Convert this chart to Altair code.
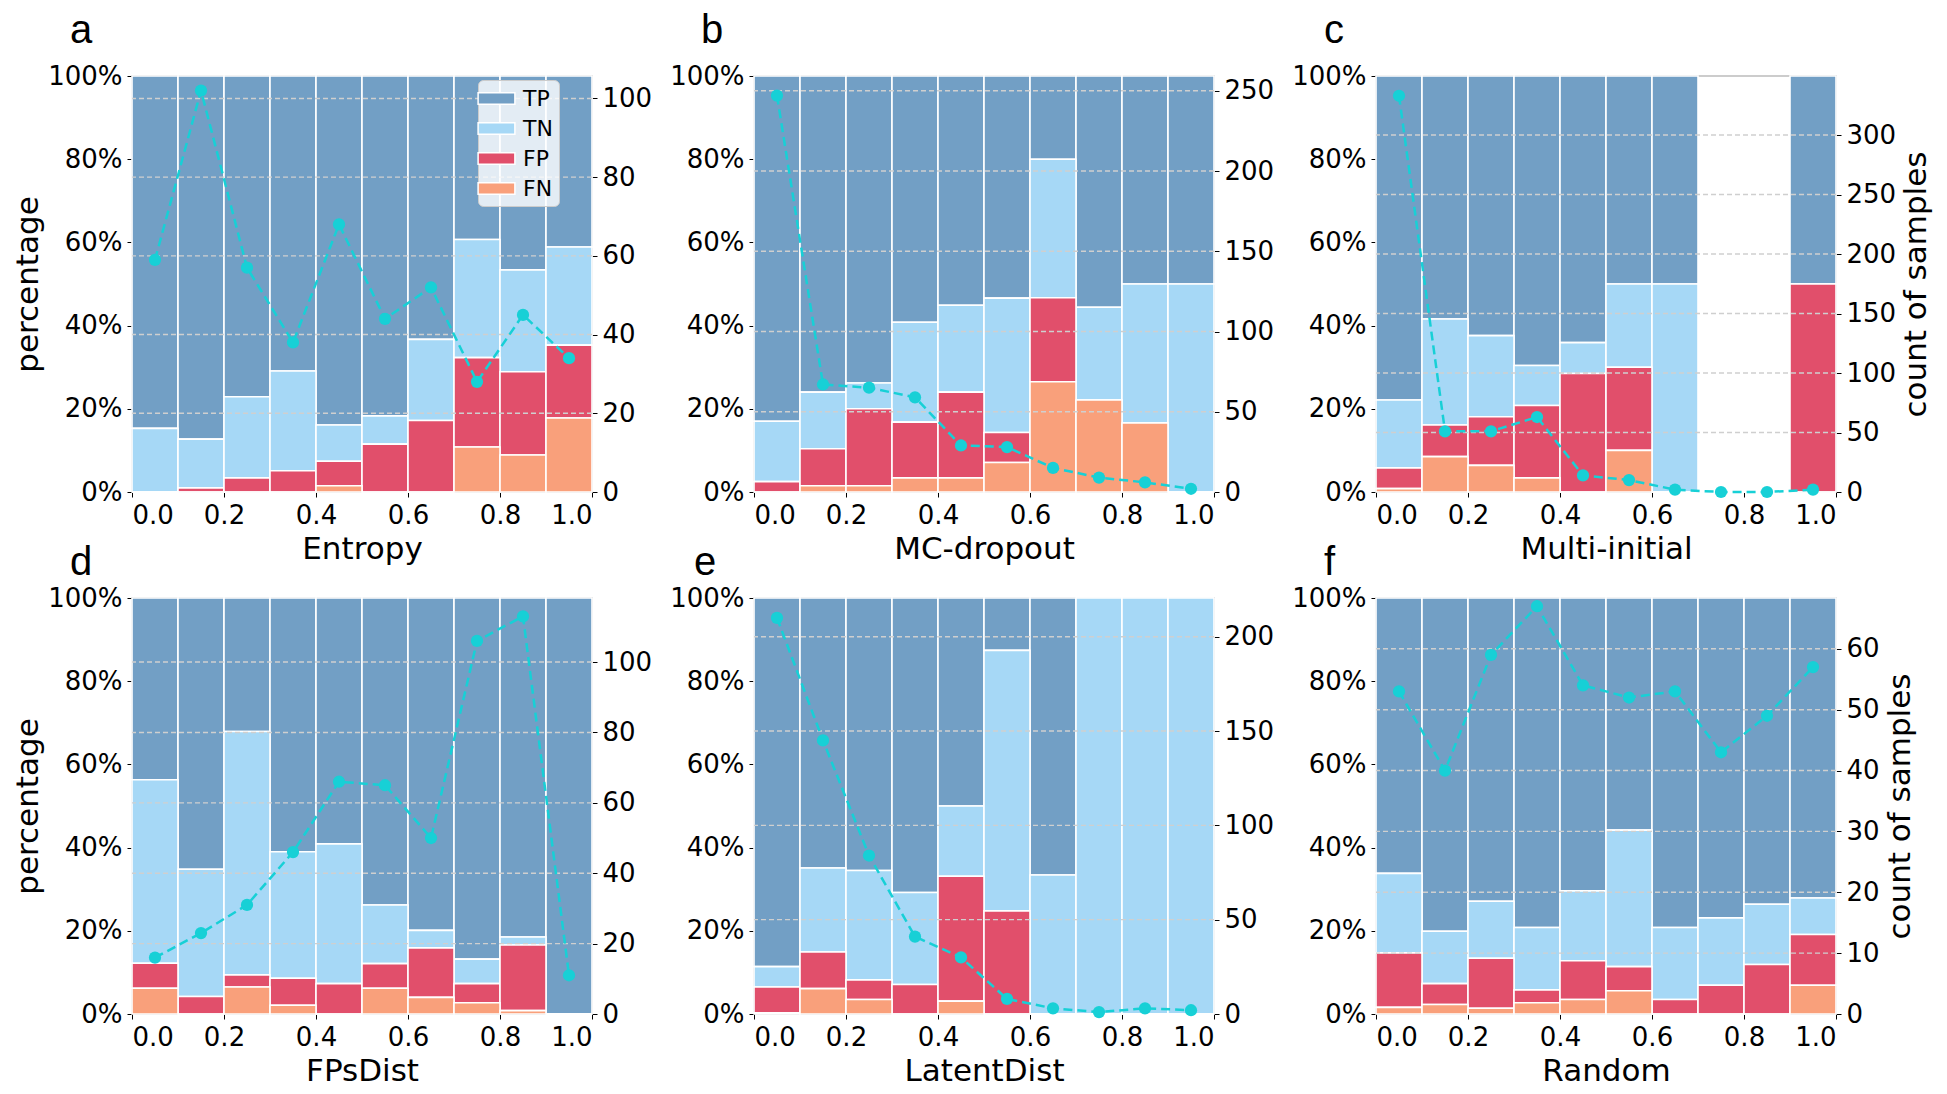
import altair as alt
import pandas as pd

# ---------------- data ----------------
bin_start = [0.0, 0.1, 0.2, 0.3, 0.4, 0.5, 0.6, 0.7, 0.8, 0.9]
bin_end = [0.1, 0.2, 0.3, 0.4, 0.5, 0.6, 0.7, 0.8, 0.9, 1.0]
bin_mid = [0.05, 0.15, 0.25, 0.35, 0.45, 0.55, 0.65, 0.75, 0.85, 0.95]
x_ticks = [0.0, 0.2, 0.4, 0.6, 0.8, 1.0]
pct_ticks = [0, 20, 40, 60, 80, 100]

outcomes = ["TP", "TN", "FP", "FN"]
outcome_colors = ["#729fc5", "#a6d8f6", "#e14f6b", "#f9a07b"]
stack_rank = [3, 2, 1, 0]  # FN bottom ... TP top

methods = ["Entropy", "MC-dropout", "Multi-initial", "FPsDist", "LatentDist", "Random"]
letters = ["a", "b", "c", "d", "e", "f"]

# percentages per bin (TP, TN, FP, FN)
entropy_tp = [84.7, 87.3, 77.1, 70.9, 83.9, 81.7, 63.3, 39.3, 46.6, 41.1]
entropy_tn = [15.3, 11.7, 19.5, 24.0, 8.7, 6.8, 19.5, 28.4, 24.5, 23.6]
entropy_fp = [0.0, 1.0, 3.4, 5.1, 5.9, 11.5, 17.2, 21.5, 20.0, 17.5]
entropy_fn = [0.0, 0.0, 0.0, 0.0, 1.5, 0.0, 0.0, 10.8, 8.9, 17.8]

mc_tp = [83.0, 76.0, 73.8, 59.2, 55.1, 53.4, 20.0, 55.6, 50.0, 50.0]
mc_tn = [14.5, 13.6, 6.2, 24.0, 20.9, 32.3, 33.3, 22.3, 33.4, 50.0]
mc_fp = [2.5, 8.9, 18.5, 13.4, 20.6, 7.2, 20.2, 0.0, 0.0, 0.0]
mc_fn = [0.0, 1.5, 1.5, 3.4, 3.4, 7.1, 26.5, 22.1, 16.6, 0.0]

multi_tp = [77.9, 58.4, 62.4, 69.6, 64.1, 50.0, 50.0, 0.0, 0.0, 50.0]
multi_tn = [16.3, 25.5, 19.5, 9.6, 7.4, 20.0, 50.0, 0.0, 0.0, 0.0]
multi_fp = [5.0, 7.6, 11.7, 17.4, 28.5, 20.0, 0.0, 0.0, 0.0, 50.0]
multi_fn = [0.8, 8.5, 6.4, 3.4, 0.0, 10.0, 0.0, 0.0, 0.0, 0.0]

fps_tp = [43.7, 65.2, 32.1, 61.0, 59.1, 73.8, 79.9, 86.8, 81.5, 100.0]
fps_tn = [44.1, 30.6, 58.5, 30.4, 33.6, 14.1, 4.2, 5.9, 1.9, 0.0]
fps_fp = [6.0, 4.2, 2.9, 6.5, 7.3, 5.9, 11.9, 4.6, 15.8, 0.0]
fps_fn = [6.2, 0.0, 6.5, 2.1, 0.0, 6.2, 4.0, 2.7, 0.8, 0.0]

latent_tp = [88.6, 64.9, 65.5, 70.8, 50.0, 12.6, 66.6, 0.0, 0.0, 0.0]
latent_tn = [4.9, 20.2, 26.3, 22.1, 16.9, 62.6, 33.4, 100.0, 100.0, 100.0]
latent_fp = [6.2, 8.8, 4.7, 7.1, 30.0, 24.8, 0.0, 0.0, 0.0, 0.0]
latent_fn = [0.3, 6.1, 3.5, 0.0, 3.1, 0.0, 0.0, 0.0, 0.0, 0.0]

random_tp = [66.2, 80.1, 72.9, 79.2, 70.4, 55.8, 79.2, 76.9, 73.6, 72.1]
random_tn = [19.1, 12.6, 13.7, 15.0, 16.8, 32.8, 17.3, 16.2, 14.5, 8.8]
random_fp = [13.1, 5.0, 12.0, 3.1, 9.3, 5.8, 3.5, 6.9, 11.9, 12.2]
random_fn = [1.6, 2.3, 1.4, 2.7, 3.5, 5.6, 0.0, 0.0, 0.0, 6.9]

# count of samples per bin
entropy_count = [59, 102, 57, 38, 68, 44, 52, 28, 45, 34]
mc_count = [247, 67, 65, 59, 29, 28, 15, 9, 6, 2]
multi_count = [333, 51, 51, 63, 14, 10, 2, 0, 0, 2]
fps_count = [16, 23, 31, 46, 66, 65, 50, 106, 113, 11]
latent_count = [210, 145, 84, 41, 30, 8, 3, 1, 3, 2]
random_count = [53, 40, 59, 67, 54, 52, 53, 43, 49, 57]

# right-axis limits and ticks
count_max = [105.7, 259.2, 349.6, 118.2, 220.5, 68.35]
count_ticks = [
    [0, 20, 40, 60, 80, 100],
    [0, 50, 100, 150, 200, 250],
    [0, 50, 100, 150, 200, 250, 300],
    [0, 20, 40, 60, 80, 100],
    [0, 50, 100, 150, 200],
    [0, 10, 20, 30, 40, 50, 60],
]

panel_values = [
    (entropy_tp, entropy_tn, entropy_fp, entropy_fn),
    (mc_tp, mc_tn, mc_fp, mc_fn),
    (multi_tp, multi_tn, multi_fp, multi_fn),
    (fps_tp, fps_tn, fps_fp, fps_fn),
    (latent_tp, latent_tn, latent_fp, latent_fn),
    (random_tp, random_tn, random_fp, random_fn),
]
panel_counts = [entropy_count, mc_count, multi_count, fps_count, latent_count, random_count]

CYAN = "#17d0d6"
PW, PH = 460, 416
letter_dx = [-62, -53, -52, -62, -60, -52]
letter_dy = [20, 20, 20, 30, 30, 30]


def x_enc(field, title):
    return alt.X(
        field,
        type="quantitative",
        scale=alt.Scale(domain=[0, 1], nice=False, zero=False),
        axis=alt.Axis(values=x_ticks, format=".1f", title=title, titlePadding=6),
    )


def make_panel(i):
    rows = []
    for k, name in enumerate(outcomes):
        vals = panel_values[i][k]
        for b in range(10):
            rows.append({"start": bin_start[b], "end": bin_end[b], "outcome": name,
                         "value": vals[b], "rank": stack_rank[k]})
    bar_df = pd.DataFrame(rows)

    if i == 0:
        legend = alt.Legend(
            title=None, orient="none", legendX=346, legendY=4,
            symbolType="M-1.6,-0.5H1.6V0.5H-1.6Z", symbolSize=529,
            symbolStrokeColor="white", symbolStrokeWidth=1.5, symbolOpacity=1,
            labelFontSize=22, labelFont="DejaVu Sans", labelColor="black", labelOffset=14,
            fillColor="rgba(255,255,255,0.8)", strokeColor="#cccccc", cornerRadius=5,
            padding=6, rowPadding=6,
        )
    else:
        legend = None

    bars = (
        alt.Chart(bar_df)
        .transform_stack(stack="value", groupby=["start"], as_=["y0", "y1"],
                         sort=[alt.SortField("rank", order="ascending")])
        .mark_bar(stroke="white", strokeWidth=1.6, opacity=1)
        .encode(
            x=x_enc("start", methods[i]),
            x2="end:Q",
            y=alt.Y("y0:Q", scale=alt.Scale(domain=[0, 100], nice=False),
                    axis=alt.Axis(orient="left", values=pct_ticks, labelExpr="datum.value + '%'",
                                  titlePadding=3,
                                  title="percentage" if i in (0, 3) else None)),
            y2="y1:Q",
            color=alt.Color("outcome:N", scale=alt.Scale(domain=outcomes, range=outcome_colors),
                            legend=legend),
        )
    )

    ysc = alt.Scale(domain=[0, count_max[i]], nice=False, zero=False)
    ax_r = alt.Axis(orient="right", values=count_ticks[i], titleAngle=270,
                    titleBaseline="top", titlePadding=6,
                    title="count of samples" if i in (2, 5) else None)

    grid_df = pd.DataFrame({"tick": [t for t in count_ticks[i] if t > 0]})
    rules = alt.Chart(grid_df).mark_rule(color="#cfcfcf", strokeDash=[5, 3], strokeWidth=1.4).encode(
        y=alt.Y("tick:Q", scale=ysc, axis=ax_r)
    )
    line_df = pd.DataFrame({"mid": bin_mid, "count": panel_counts[i]})
    line = alt.Chart(line_df).mark_line(color=CYAN, strokeDash=[9, 5], strokeWidth=2.5).encode(
        x=x_enc("mid", methods[i]),
        y=alt.Y("count:Q", scale=ysc, axis=ax_r),
    )
    points = alt.Chart(line_df).mark_circle(color=CYAN, size=150, opacity=1).encode(
        x=x_enc("mid", methods[i]),
        y=alt.Y("count:Q", scale=ysc, axis=ax_r),
    )
    right = alt.layer(rules, line, points)

    return (
        alt.layer(bars, right)
        .resolve_scale(y="independent")
        .properties(
            width=PW, height=PH,
            title=alt.TitleParams(text=letters[i], anchor="start", frame="group",
                                  dx=letter_dx[i], dy=letter_dy[i], offset=0,
                                  fontSize=40, font="Liberation Sans", fontWeight="normal",
                                  baseline="alphabetic", color="black"),
        )
    )


panels = [make_panel(i) for i in range(6)]

chart = (
    alt.ConcatChart(concat=panels, columns=3,
                    spacing=alt.RowColnumber(row=106, column=162), bounds="flush")
    .resolve_scale(x="independent", y="independent", color="independent")
    .properties(padding={"left": 3, "top": 2, "right": 2, "bottom": 0})
    .configure_view(stroke="#cccccc", strokeWidth=2)
    .configure_axis(
        domain=False, grid=False, tickColor="black", tickSize=5, tickWidth=1,
        labelFont="DejaVu Sans", labelFontSize=26, labelColor="black", labelPadding=5,
        titleFont="DejaVu Sans", titleFontSize=31, titleFontWeight="normal",
        titleColor="black", titlePadding=8,
    )
)

chart.save("out.html", embed_options={"renderer": "svg", "actions": False})
